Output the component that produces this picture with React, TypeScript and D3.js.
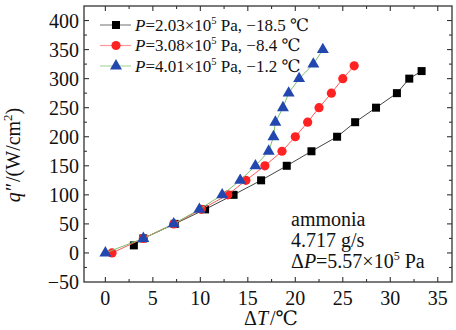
import * as d3 from "d3";

const W = 456;
const H = 330;

// series: ΔT (℃) and q'' (W/cm²)
const blackX = [3.0, 4.0, 7.3, 10.5, 13.5, 16.4, 19.1, 21.7, 24.4, 26.3, 28.5, 30.7, 32.0, 33.3];
const blackY = [13, 25, 50, 75, 100, 125, 150, 175, 200, 225, 250, 275, 300, 313];
const redX = [0.7, 4.0, 7.2, 10.1, 12.9, 14.8, 16.8, 18.6, 20.0, 21.3, 22.5, 23.8, 25.0, 26.2];
const redY = [0, 25, 50, 75, 100, 125, 150, 175, 200, 225, 250, 275, 300, 322];
const blueX = [0.0, 4.0, 7.2, 9.9, 12.3, 14.2, 15.8, 17.2, 17.7, 17.9, 18.7, 19.3, 20.4, 21.9, 22.9];
const blueY = [0, 25, 50, 75, 100, 125, 150, 175, 200, 225, 250, 275, 300, 325, 350];

const xTicks = [0, 5, 10, 15, 20, 25, 30, 35];
const yTicks = [-50, 0, 50, 100, 150, 200, 250, 300, 350, 400];

const legendP = ["2.03", "3.08", "4.01"];
const legendT = ["−18.5 ℃", "−8.4 ℃", "−1.2 ℃"];

const left = 84, right = 452, top = 6, bottom = 282;
const x = d3.scaleLinear().domain([-2.25, 36.5]).range([left, right]);
const y = d3.scaleLinear().domain([-50, 425]).range([bottom, top]);

const font = "Liberation Serif, Times New Roman, DejaVu Serif, serif";
const axisColor = "#333";

const series = [
  { xs: blackX, ys: blackY, marker: "square", fill: "#000", line: "#444", legLine: "#888" },
  { xs: redX, ys: redY, marker: "circle", fill: "#f22", line: "#ff5a5a", legLine: "#f99" },
  { xs: blueX, ys: blueY, marker: "triangle", fill: "#2248b0", line: "#7cc070", legLine: "#aad8a0" },
];

function Marker({ kind, cx, cy, fill }: { kind: string; cx: number; cy: number; fill: string }) {
  if (kind === "square") return <rect x={cx - 4} y={cy - 4} width={8} height={8} fill={fill} />;
  if (kind === "circle") return <circle cx={cx} cy={cy} r={4.6} fill={fill} />;
  const p = d3.symbol(d3.symbolTriangle, 62)();
  return <path d={p || ""} transform={`translate(${cx},${cy})`} fill={fill} />;
}

export default function App() {
  const line = d3.line<[number, number]>().x((d) => x(d[0])).y((d) => y(d[1]));
  const xMinor = d3.range(-2.5, 37, 2.5).filter((v) => x(v) > left && x(v) < right);
  const yMinor = d3.range(-50, 426, 25).filter((v) => y(v) < bottom && y(v) > top);

  return (
    <svg width={W} height={H} style={{ position: "absolute", left: 0, top: 0, background: "#fff", fontFamily: font }}>
      {/* frame */}
      <rect x={left} y={top} width={right - left} height={bottom - top} fill="none" stroke={axisColor} strokeWidth={1.3} />

      {/* ticks, pointing inward on all four sides */}
      {xMinor.map((v) => {
        const major = xTicks.includes(v);
        const len = major ? 5 : 3;
        return (
          <g key={"xt" + v} stroke={axisColor} strokeWidth={1.1}>
            <line x1={x(v)} x2={x(v)} y1={bottom} y2={bottom - len} />
            <line x1={x(v)} x2={x(v)} y1={top} y2={top + len} />
          </g>
        );
      })}
      {yMinor.map((v) => {
        const major = yTicks.includes(v);
        const len = major ? 5 : 3;
        return (
          <g key={"yt" + v} stroke={axisColor} strokeWidth={1.1}>
            <line x1={left} x2={left + len} y1={y(v)} y2={y(v)} />
            <line x1={right} x2={right - len} y1={y(v)} y2={y(v)} />
          </g>
        );
      })}

      {/* tick labels */}
      {xTicks.map((v) => (
        <text key={"xl" + v} x={x(v)} y={bottom + 23} textAnchor="middle" fontSize={20} fill="#111">
          {v}
        </text>
      ))}
      {yTicks.map((v) => (
        <text key={"yl" + v} x={left - 5} y={y(v) + 7} textAnchor="end" fontSize={20} fill="#111">
          {v < 0 ? "−" + Math.abs(v) : v}
        </text>
      ))}

      {/* axis titles */}
      <text x={271} y={325} textAnchor="middle" fontSize={20} fill="#111">
        Δ<tspan fontStyle="italic">T</tspan>
        <tspan dx={2}>/℃</tspan>
      </text>
      <text transform="translate(20,155) rotate(-90)" textAnchor="middle" fontSize={20} fill="#111">
        <tspan fontStyle="italic">q″</tspan>
        <tspan dx={2}>/(W/cm</tspan>
        <tspan fontSize={13} dy={-8}>2</tspan>
        <tspan dy={8}>)</tspan>
      </text>

      {/* data */}
      {series.map((s, i) => {
        const pts = s.xs.map((v, j) => [v, s.ys[j]] as [number, number]);
        return (
          <g key={"s" + i}>
            <path d={line(pts) || ""} fill="none" stroke={s.line} strokeWidth={1} />
            {pts.map((p, j) => (
              <Marker key={j} kind={s.marker} cx={x(p[0])} cy={y(p[1])} fill={s.fill} />
            ))}
          </g>
        );
      })}

      {/* legend */}
      {series.map((s, i) => {
        const ly = 25 + i * 20.5;
        return (
          <g key={"lg" + i}>
            <line x1={100} x2={131} y1={ly} y2={ly} stroke={s.legLine} strokeWidth={1.2} />
            <Marker kind={s.marker} cx={116} cy={ly} fill={s.fill} />
            <text x={135} y={ly + 5.5} fontSize={17} fill="#111">
              <tspan fontStyle="italic">P</tspan>={legendP[i]}×10
              <tspan fontSize={10.5} dy={-7}>5</tspan>
              <tspan dy={7}> Pa, {legendT[i]}</tspan>
            </text>
          </g>
        );
      })}

      {/* annotation */}
      <g fontSize={20} fill="#111">
        <text x={291} y={226}>ammonia</text>
        <text x={291} y={247}>4.717 g/s</text>
        <text x={291} y={268}>
          Δ<tspan fontStyle="italic">P</tspan>=5.57×10
          <tspan fontSize={12} dy={-8}>5</tspan>
          <tspan dy={8}> Pa</tspan>
        </text>
      </g>
    </svg>
  );
}
